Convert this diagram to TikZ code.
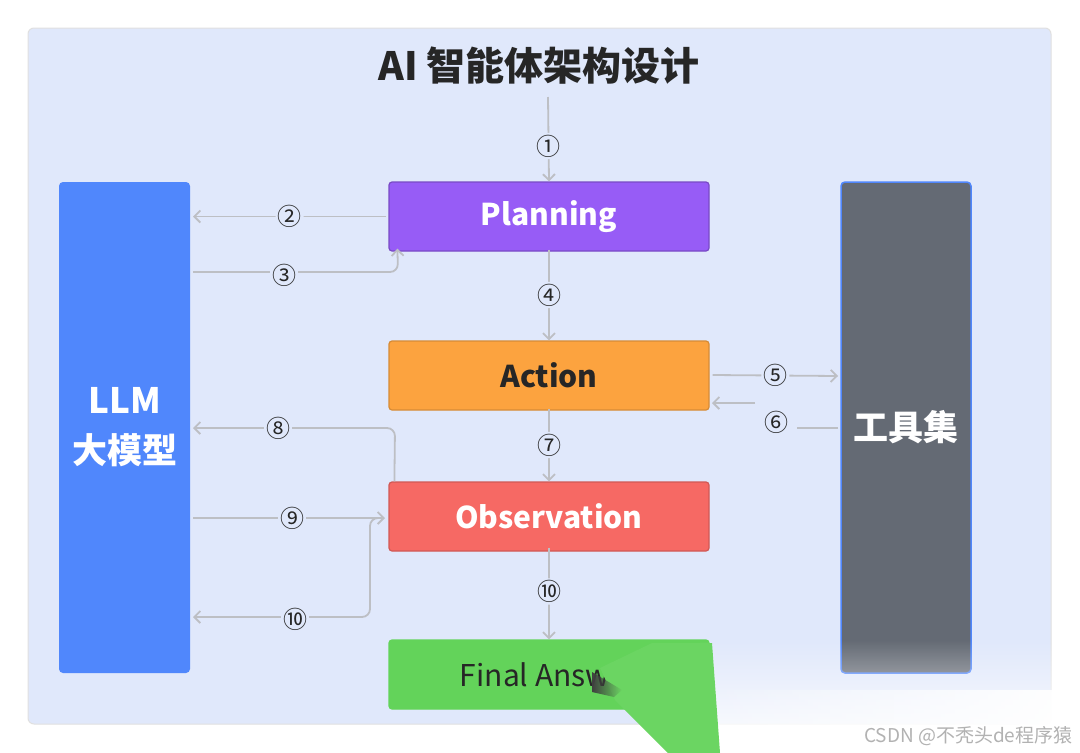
\documentclass[tikz,border=0pt]{standalone}
\usepackage{fontspec}
\setmainfont{Noto Sans CJK SC}
\usetikzlibrary{arrows.meta,fadings}
\definecolor{bgpanel}{HTML}{E0E8FB}
\definecolor{llmc}{HTML}{5087FC}
\definecolor{toolc}{HTML}{646A74}
\definecolor{planc}{HTML}{975CF6}
\definecolor{actc}{HTML}{FCA33F}
\definecolor{obsc}{HTML}{F66964}
\definecolor{finc}{HTML}{63D35A}
\definecolor{linec}{HTML}{BDBFC4}
\tikzset{
  box/.style={draw, rounded corners=3pt, line width=1.2pt, minimum width=320pt, minimum height=69pt, font=\fontsize{30}{33}\selectfont\bfseries, inner sep=0pt},
  conn/.style={draw=linec, line width=1.8pt, rounded corners=8pt, -{Straight Barb[length=6pt,width=12pt]}},
  plain/.style={draw=linec, line width=1.8pt, rounded corners=8pt},
  num/.style={fill=bgpanel, inner sep=2pt, font=\fontsize{24}{26}\selectfont, text=black!85}
}
\begin{document}
\begin{tikzpicture}[x=1pt,y=-1pt]
\useasboundingbox (0,0) rectangle (1080,753);
\fill[white] (0,0) rectangle (1080,753);
\draw[fill=bgpanel, draw=black!12, line width=1pt, rounded corners=6pt] (28,28) rectangle (1051,724);
\node[font=\fontsize{39}{42}\selectfont\bfseries, text=black!85] (title) at (539,66) {AI 智能体架构设计};
\node[fill=llmc, rounded corners=4pt, minimum width=131pt, minimum height=491pt, inner sep=0pt, text=white, align=center, font=\fontsize{35}{50}\selectfont\bfseries] (llm) at (124.5,427.5) {LLM\\大模型};
\node[fill=toolc, draw=llmc, line width=1.5pt, rounded corners=4pt, minimum width=130pt, minimum height=491pt, inner sep=0pt, text=white, font=\fontsize{35}{40}\selectfont\bfseries] (tools) at (906,427.5) {工具集};
\node[box, fill=planc, draw=planc!80!black, text=white] (plan) at (549,216.5) {Planning};
\node[box, fill=actc, draw=actc!85!black, text=black!85] (act) at (549,375.5) {Action};
\node[box, fill=obsc, draw=obsc!85!black, text=white] (obs) at (549,516.5) {Observation};
\node[box, fill=finc, draw=finc, text=black!85, font=\fontsize{30}{33}\selectfont] (fin) at (549,674.5) {Final Answer};
% 1
\path[conn] (548,97) coordinate (t1) -- (plan.north) node[num, pos=0.58] {①};
% 2
\path[conn] (plan.west) ++(-2,0) -- (193,216.5) node[num, pos=0.5] {②};
% 3
\path[conn] (193,272) -- (398,272) -- ([xshift=9pt,yshift=3pt]plan.south west);
\node[num] at (284,275) {③};
% 4
\path[conn] ([yshift=2pt]plan.south) -- (act.north) node[num, midway] {④};
% 5
\path[conn] ([xshift=3pt,yshift=0.5pt]act.east) -- (838,376) node[num, midway] {⑤};
% 6
\path[plain] (838,428) -- (797,428);
\path[conn] (755,403) -- (712,403);
\node[num] at (776,422) {⑥};
% 7
\path[conn] ([yshift=2pt]act.south) -- (obs.north) node[num, midway] {⑦};
% 8
\path[conn] ([xshift=6pt]obs.north west) -- (395,428) -- (193,428);
\node[num] at (278,428) {⑧};
% 9
\path[conn] (193,518) -- (385,518);
\node[num] at (292,518) {⑨};
% 10 left
\path[conn] (382,518) -- (370,518) -- (370,617) -- (193,617);
\node[num] at (295,619) {⑩};
% 10 down
\path[conn] ([yshift=4pt]obs.south) -- (fin.north) node[num, midway, yshift=2pt] {⑩};
% artifact overlay
\fill[white, path fading=north] (700,640) rectangle (1080,753);
\fill[white] (400,725) rectangle (700,753);
\fill[white, path fading=west] (706,690) rectangle (1080,753);
\fill[finc!95!white] (600,668) -- (652,643) -- (712,643) -- (720,753) -- (668,753) -- (615,700) -- cycle;
\fill[black!75, path fading=east] (592,672) -- (622,690) -- (614,697) -- (592,692) -- cycle;
\node[anchor=east, text=gray!60, font=\fontsize{19}{22}\selectfont] (wm) at (1076,736) {CSDN @不秃头de程序猿};
\end{tikzpicture}
\end{document}
